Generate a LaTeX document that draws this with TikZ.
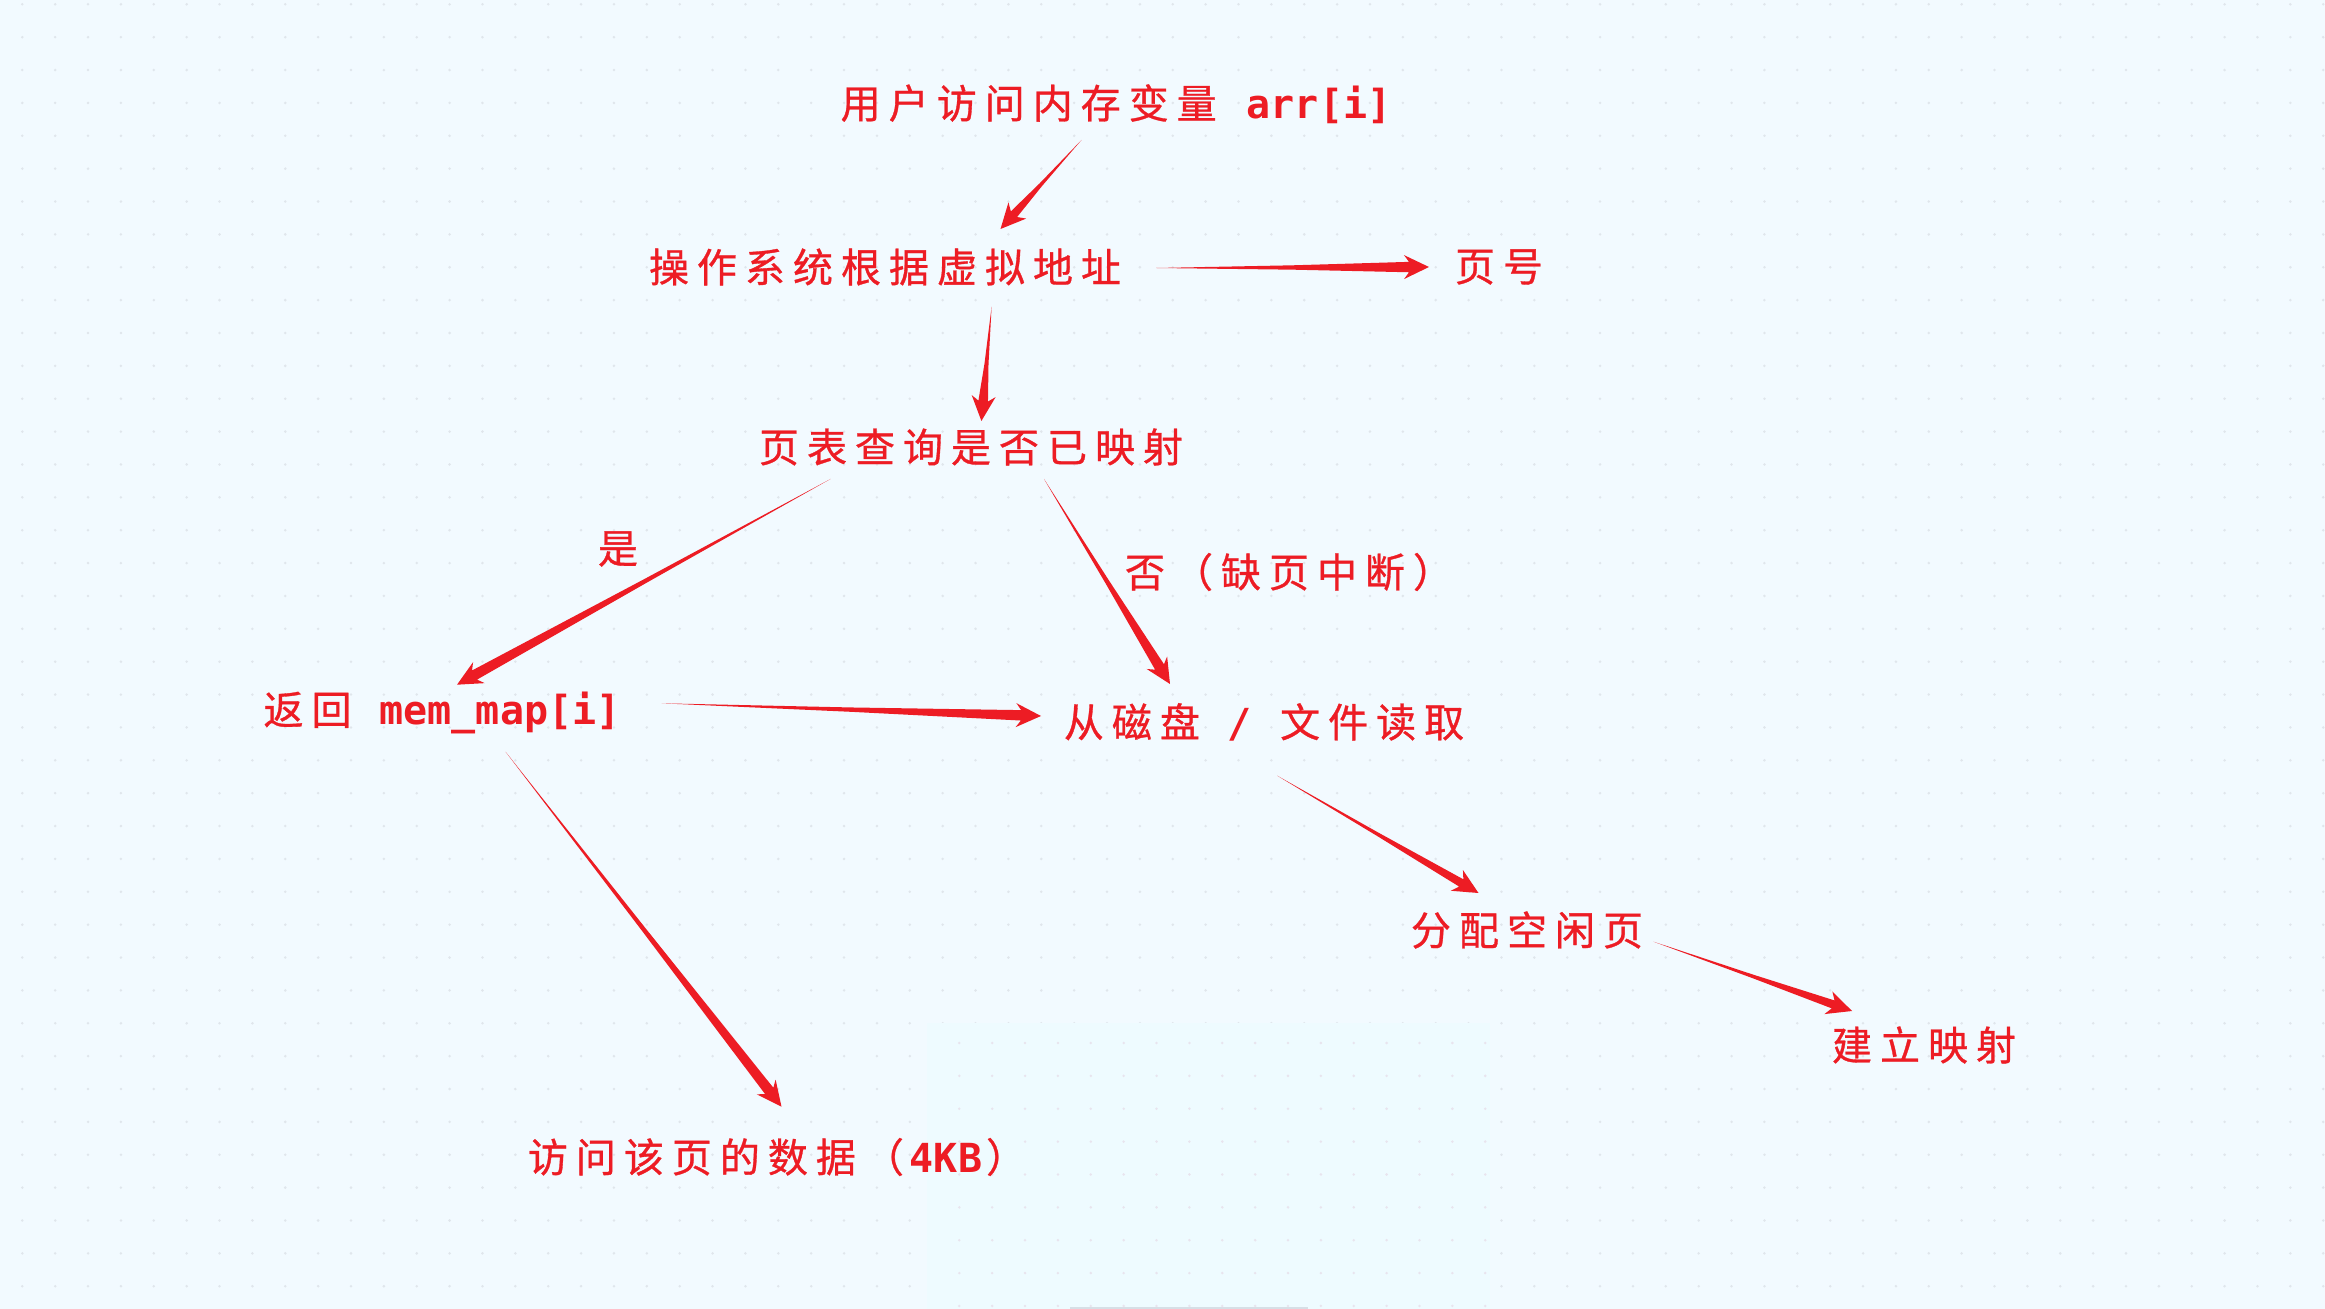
\documentclass[tikz,border=0pt]{standalone}
\usepackage{fontspec}
\usetikzlibrary{calc}
\newfontfamily\cjkf[LetterSpace=20,FakeBold=0.8]{Noto Sans CJK SC}
\newfontfamily\monof{DejaVu Sans Mono Bold}
\newcommand\cn[1]{{\fontsize{20pt}{24pt}\cjkf #1}}
\newcommand\mn[1]{{\fontsize{20pt}{24pt}\monof #1}}
\definecolor{bgmain}{HTML}{F2FAFF}
\definecolor{bgpatch}{HTML}{EEFBFF}
\definecolor{dotmain}{HTML}{E0E6EC}
\definecolor{dotpatch}{HTML}{E8E4EE}
\definecolor{inkred}{HTML}{ED1C24}
\definecolor{edgegrey}{HTML}{D6DFE6}
\tikzset{
  lab/.style={inner sep=0pt,outer sep=0pt,text=inkred,anchor=center},
  inkfill/.style={fill=inkred,draw=none},
}
% tapered arrow: from, to, half shaft width at the head
\newcommand\taper[3]{%
  \coordinate (tpH) at ($(#2)!12.5pt!(#1)$);
  \coordinate (tpN) at ($(#2)!10pt!(#1)$);
  \coordinate (tpM) at ($(#1)!0.5!(#2)$);
  \fill[inkfill] (#1) -- ($(tpM)!0.42*#3!90:(#2)$) -- ($(tpN)!#3!90:(#2)$) -- ($(tpH)!6pt!90:(#2)$) -- (#2)
     -- ($(tpH)!6pt!-90:(#2)$) -- ($(tpN)!#3!-90:(#2)$) -- ($(tpM)!0.42*#3!-90:(#2)$) -- cycle;
}
\begin{document}
\begin{tikzpicture}[x=0.5pt,y=-0.5pt]
\useasboundingbox (0,0) rectangle (2325,1309);
\fill[bgmain] (0,0) rectangle (2325,1309);
% dot grid
\foreach \i in {0,...,70}{
  \foreach \j in {0,...,39}{
    \pgfmathsetmacro\dx{22.3+\i*32.87}
    \pgfmathsetmacro\dy{4.3+\j*32.87}
    \fill[dotmain] (\dx,\dy) circle[radius=1.4];
  }
}
% lighter patch with its own dot grid
\fill[bgpatch] (927,1023) rectangle (1490,1309);
\foreach \i in {0,...,16}{
  \foreach \j in {0,...,8}{
    \pgfmathsetmacro\dx{959.3+\i*32.87}
    \pgfmathsetmacro\dy{1043+\j*32.87}
    \fill[dotpatch] (\dx,\dy) circle[radius=1.4];
  }
}
\fill[edgegrey] (1070,1306.5) rectangle (1308,1309);
% nodes
\node[lab] (n1) at (1116,104) {\cn{用户访问内存变量}\hspace{3pt}\mn{ arr[i]}};
\node[lab] (n2) at (885,267) {\cn{操作系统根据虚拟地址}};
\node[lab] (n3) at (1499,267) {\cn{页号}};
\node[lab] (n4) at (971,447) {\cn{页表查询是否已映射}};
\node[lab] (n5) at (442,713) {\cn{返回}\hspace{2pt}\mn{ mem\_map[i]}};
\node[lab] (n6) at (1264,722) {\cn{从磁盘}\hspace{2pt}\mn{ / }\hspace{2pt}\cn{文件读取}};
\node[lab] (n7) at (1527,930) {\cn{分配空闲页}};
\node[lab] (n8) at (1924,1045) {\cn{建立映射}};
\node[lab] (n9) at (777,1157) {\cn{访问该页的数据（}\hspace{3pt}\mn{4KB}\hspace{2pt}\cn{）}};
\node[lab] (l1) at (618,549) {\cn{是}};
\node[lab] (l2) at (1289,572) {\cn{否（缺页中断）}};
% connector ends, set off from the nodes
\coordinate (a1s) at (1081.5,140);  \coordinate (a1e) at (1000.5,229);
\coordinate (a2s) at (1156,268);    \coordinate (a2e) at (1429,267);
\coordinate (a3s) at (991.6,306.7); \coordinate (a3e) at (981.4,421);
\coordinate (a4s) at (830.5,479);   \coordinate (a4e) at (457,684.7);
\coordinate (a5s) at (1044,479);    \coordinate (a5e) at (1170,684);
\coordinate (a6s) at (661.6,703.3); \coordinate (a6e) at (1041,716);
\coordinate (a7s) at (505.5,751.7); \coordinate (a7e) at (781.5,1106.7);
\coordinate (a8s) at (1277,775.6);  \coordinate (a8e) at (1478.5,893);
\coordinate (a9s) at (1653.5,941.7);\coordinate (a9e) at (1852,1011);
\taper{a1s}{a1e}{2.1pt}
\taper{a2s}{a2e}{2.6pt}
\taper{a3s}{a3e}{2.4pt}
\taper{a4s}{a4e}{2.6pt}
\taper{a5s}{a5e}{2.6pt}
\taper{a6s}{a6e}{2.6pt}
\taper{a7s}{a7e}{2.6pt}
\taper{a8s}{a8e}{2.1pt}
\taper{a9s}{a9e}{2.1pt}
\end{tikzpicture}
\end{document}
